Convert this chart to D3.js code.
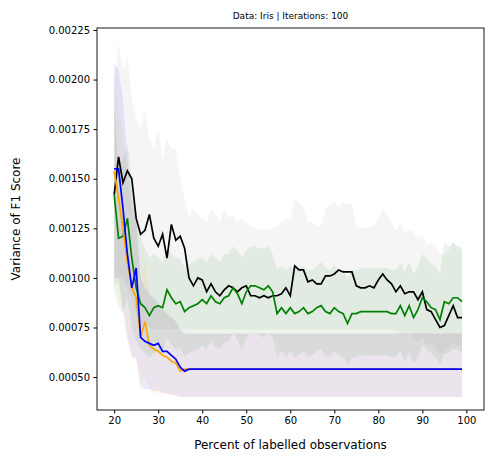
<!DOCTYPE html>
<html><head><meta charset="utf-8">
<script src="https://cdn.jsdelivr.net/npm/d3@7"></script>
<style>body{margin:0;background:#fff}text{font-family:"DejaVu Sans",sans-serif}</style>
</head><body><svg id="c" width="493" height="466"></svg>
<script>
// values in units of 1e-5
const xs = d3.range(20, 100);
const flat = (v, n) => Array(n).fill(v);
const blackMean = [142,161,148,154,150,130,122,124,132,120,116,122,110,127,119,121,115,100,96,100,99,93,97,93,91,94,96,95,93,95,96,91,91,90,91,90,91,91,92,95,91,106,104,104,98,99,97,97,101,101,102,104,103,103,103,96,95,95,96,95,99,102,99,97,93,96,92,93,93,89,93,84,83,79,75,76,81,86,80,80];
const blackUp = [200,218,205,212,190,180,175,185,170,165,175,160,170,165,165,150,140,130,135,132,130,128,135,132,128,135,130,132,128,130,128,126,125,124,125,124,125,126,128,130,130,140,138,136,128,128,126,126,135,137,138,136,138,137,137,126,125,125,126,126,130,135,131,128,124,127,123,124,123,120,122,117,118,116,112,112,114,118,116,116];
const blackLo = [95,100,100,95,90,82,78,76,75,74].concat(flat(74,55),[72,70,72,70,68,70,66,67,64,62,63,65,67,66,66]);
const greenMean = [142,120,121,130,110,95,87,85,81,85,86,85,94,90,87,88,83,85,86,87,89,87,91,88,87,90,91,95,92,87,93,96,96,95,94,96,93,82,85,82,85,82,83,85,82,83,85,86,83,82,85,83,82,77,82,82,83,83,83,83,83,83,83,82,82,86,81,86,80,84,90,88,85,84,79,88,87,90,90,88];
const greenUp = [190,155,160,168,150,130,120,115,110,112,110,108,115,112,110,110,105,107,108,110,110,108,112,110,108,112,112,116,114,110,114,116,116,115,115,116,112,104,106,104,106,104,105,106,104,104,106,108,105,104,106,104,104,100,104,104,105,105,105,105,105,105,105,104,104,108,103,108,102,106,112,110,107,106,102,118,116,118,116,114];
const greenLo = [95,85,82,90,75,68,64,62,60,62,63,62,70,66,64,65,60,62,63,64,66,64,68,65,64,67,68,72,69,64,70,72,72,71,70,72,70,60,63,60,63,60,61,63,60,61,63,64,61,60,63,61,60,56,60,60,61,61,61,61,61,61,61,60,60,63,58,63,57,60,66,64,62,60,56,62,62,64,64,62];
const blueMean = [155,155,135,112,95,105,70,68,67,66,67,63,63,61,59,55,53].concat(flat(54,63));
const blueUp = [208,205,190,160,140,130,100,95,92,90,88,84,82,80,78,74,72].concat(flat(72,63));
const blueLo = [100,100,85,70,60,60,45,44,44,43,43,42,42,41,41,40,40].concat(flat(40,63));
const orangeMean = [154,140,125,108,95,90,70,78,66,64,63,61,60,58,57,53,54].concat(flat(54,63));
const orangeUp = [200,185,170,150,135,128,100,108,92,88,86,84,82,80,78,73,72].concat(flat(72,63));
const orangeLo = [100,95,80,68,60,58,45,50,43,42,42,41,41,41,40,40,40].concat(flat(40,63));
const xTicks = [20,30,40,50,60,70,80,90,100];
const yTicks = [0.0005,0.00075,0.001,0.00125,0.0015,0.00175,0.002,0.00225];

const series = [
  {c:"black", band:"#808080", m:blackMean, u:blackUp, l:blackLo},
  {c:"green", band:"green", m:greenMean, u:greenUp, l:greenLo},
  {c:"orange", band:"orange", m:orangeMean, u:orangeUp, l:orangeLo},
  {c:"blue", band:"blue", m:blueMean, u:blueUp, l:blueLo}
];
const svg = d3.select("#c");
const L=97,R=484,T=28,B=410;
const x = d3.scaleLinear().domain([16.1,104]).range([L,R]);
const y = d3.scaleLinear().domain([0.000334,0.00226]).range([B,T]);
const k=1e-5;
series.forEach(s=>{
  const area = d3.area().x((d,i)=>x(xs[i])).y0((d,i)=>y(s.l[i]*k)).y1((d,i)=>y(s.u[i]*k));
  svg.append("path").datum(s.m).attr("d",area).attr("fill",s.band).attr("fill-opacity",0.08);
});
series.forEach(s=>{
  const line = d3.line().x((d,i)=>x(xs[i])).y(d=>y(d*k));
  svg.append("path").datum(s.m).attr("d",line).attr("fill","none").attr("stroke",s.c).attr("stroke-width",1.7);
});
const gx = svg.append("g").attr("transform",`translate(0,${B})`).call(d3.axisBottom(x).tickValues(xTicks).tickSize(3.5).tickPadding(3.5));
const gy = svg.append("g").attr("transform",`translate(${L},0)`).call(d3.axisLeft(y).tickValues(yTicks).tickFormat(d3.format(".5f")).tickSize(3.5).tickPadding(3.5));
[gx,gy].forEach(g=>{g.select(".domain").remove();g.selectAll("text").attr("font-size",10).attr("fill","#000");g.selectAll("line").attr("stroke","#000");});
svg.append("rect").attr("x",L).attr("y",T).attr("width",R-L).attr("height",B-T).attr("fill","none").attr("stroke","#000").attr("stroke-width",0.9);
svg.append("text").attr("x",(L+R)/2).attr("y",19).attr("text-anchor","middle").attr("font-size",9).text("Data: Iris | Iterations: 100");
svg.append("text").attr("x",(L+R)/2).attr("y",449).attr("text-anchor","middle").attr("font-size",12).text("Percent of labelled observations");
svg.append("text").attr("transform",`translate(20,${(T+B)/2}) rotate(-90)`).attr("text-anchor","middle").attr("font-size",12).text("Variance of F1 Score");
</script></body></html>
